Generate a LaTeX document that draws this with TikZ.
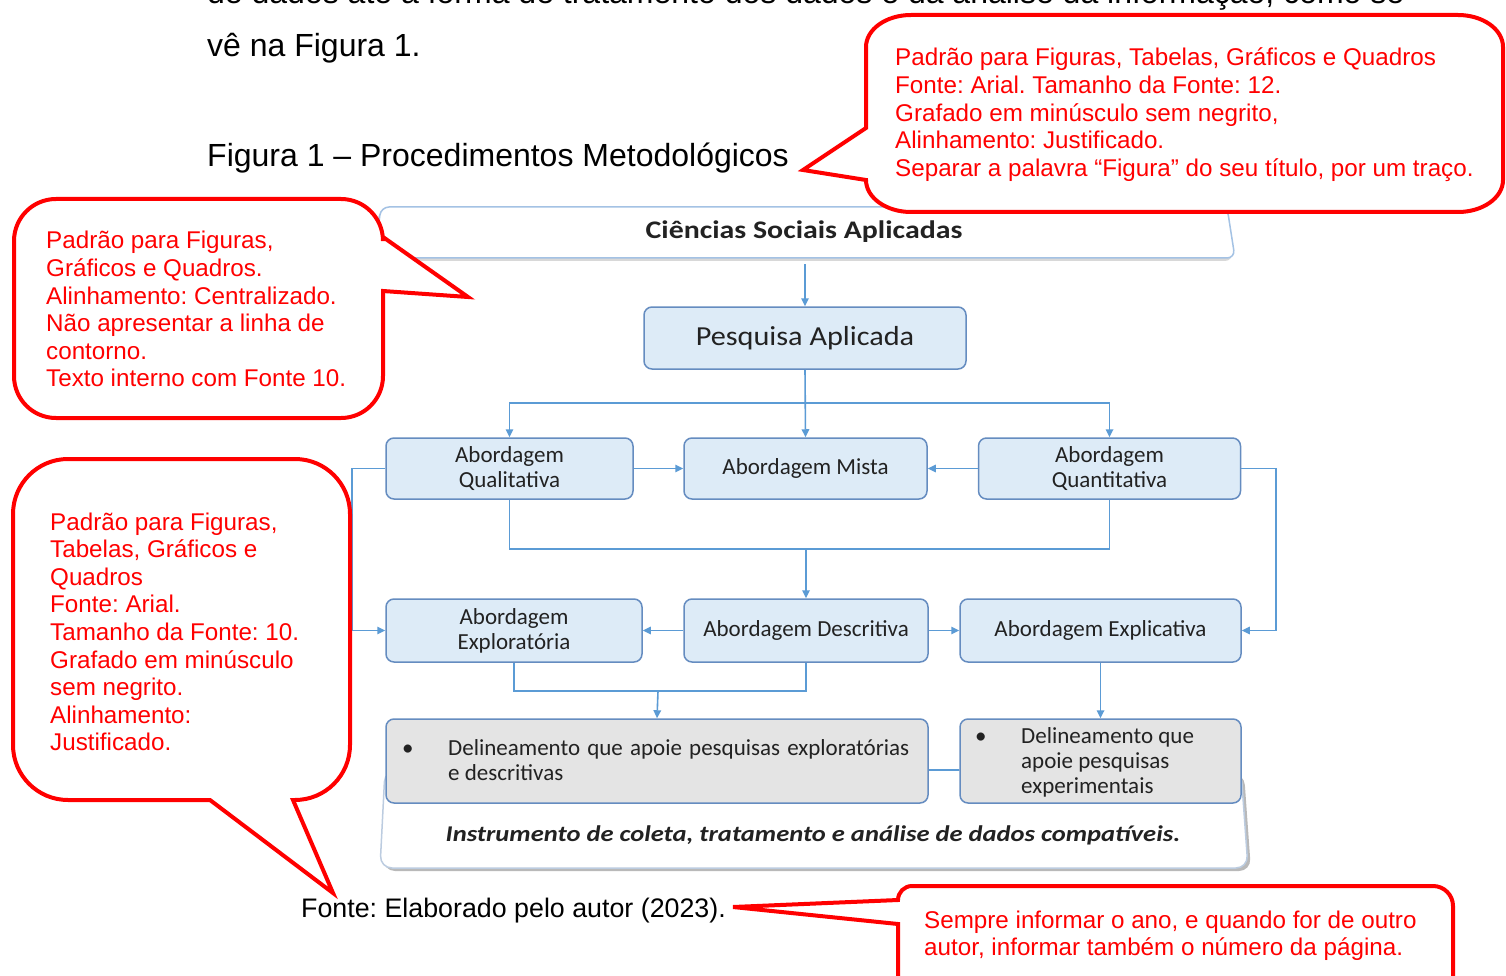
\documentclass[tikz,border=0pt]{standalone}
\usepackage{fontspec}
\setmainfont{Liberation Sans}
\newfontfamily\dgfont{Carlito}
\newfontfamily\dgmid[FakeStretch=1.1]{Carlito}
\newfontfamily\dgwide[FakeStretch=1.18]{Carlito}
\usetikzlibrary{arrows.meta,shadows}
\definecolor{lnblue}{HTML}{5B9BD5}
\definecolor{bxborder}{HTML}{658CC0}
\definecolor{bxfill}{HTML}{DDEBF7}
\definecolor{gyfill}{HTML}{E4E4E4}
\definecolor{cienborder}{HTML}{A4C2E4}
\definecolor{instborder}{HTML}{BCCCE0}
\definecolor{callred}{HTML}{FF0000}
\definecolor{txtc}{HTML}{222222}
\frenchspacing
\begin{document}
\frenchspacing
\begin{tikzpicture}[x=1pt,y=-1pt,
  conn/.style={draw=lnblue, line width=1.6pt},
  arr/.style={conn, -{Triangle[length=8pt,width=7.5pt]}},
  bx/.style={draw=bxborder, fill=bxfill, line width=1.5pt, rounded corners=8pt, inner sep=0pt, align=center, font=\dgfont\fontsize{23}{25}\selectfont, text=txtc},
  gbx/.style={bx, fill=gyfill},
  dgtext/.style={anchor=base west, inner sep=0pt, font=\dgfont\fontsize{23}{25}\selectfont, text=txtc},
  callout/.style={draw=callred, fill=white, line width=4pt},
  calltext/.style={anchor=base west, inner sep=0pt, text=callred, font=\fontsize{24.2}{27.6}\selectfont},
  body/.style={anchor=base west, inner sep=0pt, font=\fontsize{32}{38}\selectfont, text=black}
]
\useasboundingbox (0,0) rectangle (1506,976);
\clip (0,0) rectangle (1506,976);
\fill[white] (0,0) rectangle (1506,976);

% body text
\node[body] (l0) at (207,3.3) {de dados até a forma de tratamento dos dados e da análise da informação, como se};
\node[body] (l1) at (207,56.7) {vê na Figura 1.};
\node[body] (cap) at (207,166.7) {Figura 1 – Procedimentos Metodológicos};

% top band
\draw[draw=cienborder, fill=white, line width=1.5pt, rounded corners=8pt,
  drop shadow={opacity=0.3, shadow xshift=-2pt, shadow yshift=-3pt}]
  (381,207) -- (1227,207) -- (1235,258) -- (374,258) -- cycle;
\node[font=\dgwide\bfseries\fontsize{25.3}{30}\selectfont, text=txtc, inner sep=0pt] (cien) at (804,232) {Ciências Sociais Aplicadas};
\coordinate (cienb) at (805,264);

% bottom band
\draw[draw=instborder, fill=white, line width=1.5pt, rounded corners=12pt,
  drop shadow={opacity=0.55, shadow xshift=3pt, shadow yshift=-3pt}]
  (385,770) -- (1241,770) -- (1248,868) -- (380,868) -- cycle;
\node[font=\dgwide\bfseries\itshape\fontsize{22.5}{26}\selectfont, text=txtc, inner sep=0pt] (inst) at (813,835) {Instrumento de coleta, tratamento e análise de dados compatíveis.};

% boxes
\node[bx, minimum width=322pt, minimum height=62pt, font=\dgmid\fontsize{27.5}{30}\selectfont] (pesq) at (805,338) {Pesquisa Aplicada};
\node[bx, minimum width=247pt, minimum height=61pt] (qual) at (509.5,468.5) {Abordagem\\Qualitativa};
\node[bx, minimum width=243pt, minimum height=61pt] (mista) at (805.5,468.5) {Abordagem Mista};
\node[bx, minimum width=262pt, minimum height=61pt] (quant) at (1109.5,468.5) {Abordagem\\Quantitativa};
\node[bx, minimum width=256pt, minimum height=63pt] (explo) at (514,630.5) {Abordagem\\Exploratória};
\node[bx, minimum width=244pt, minimum height=63pt] (descr) at (806,630.5) {Abordagem Descritiva};
\node[bx, minimum width=281pt, minimum height=63pt] (expli) at (1100.5,630.5) {Abordagem Explicativa};
\node[gbx, minimum width=542pt, minimum height=84pt] (gl) at (657,761) {};
\node[gbx, minimum width=281pt, minimum height=84pt] (gr) at (1100.5,761) {};
\node[dgtext] (glb) at (402,755) {\textbullet};
\node[dgtext] (glt) at (448,755) {\parbox[t]{461pt}{\makebox[461pt][s]{Delineamento que apoie pesquisas exploratórias}\\e descritivas}};
\node[dgtext] (grb) at (975,743) {\textbullet};
\node[dgtext] (grt) at (1021,743) {\parbox[t]{200pt}{Delineamento que\\apoie pesquisas\\experimentais}};

% connectors
\coordinate (j1) at (805,403);
\coordinate (j2) at (806,549);
\coordinate (j3) at (658,691);
\coordinate (lL) at (352,468.5);
\coordinate (lR) at (1276,468.5);
\draw[arr] (cienb) -- (pesq.north);
\draw[arr] (pesq.south) -- (mista.north);
\draw[arr] (j1) -| (qual.north);
\draw[arr] (j1) -| (quant.north);
\draw[arr] (qual.east) -- (mista.west);
\draw[arr] (quant.west) -- (mista.east);
\draw[conn] (qual.south) |- (j2) -| (quant.south);
\draw[arr] (j2) -- (descr.north);
\draw[arr] (qual.west) -- (lL) |- (explo.west);
\draw[arr] (quant.east) -- (lR) |- (expli.east);
\draw[arr] (descr.west) -- (explo.east);
\draw[arr] (descr.east) -- (expli.west);
\draw[conn] (explo.south) |- (j3) -| (descr.south);
\draw[arr] (j3) -- (gl.north);
\draw[arr] (expli.south) -- (gr.north);
\draw[conn] ([yshift=-9pt]gl.east) -- ([yshift=-9pt]gr.west);

% callouts
\draw[callout] (866,128) -- (866,47) arc[start angle=180,end angle=90,x radius=45pt,y radius=32pt]
  -- (1458,15) arc[start angle=90,end angle=0,x radius=45pt,y radius=32pt]
  -- (1503,180) arc[start angle=0,end angle=-90,x radius=45pt,y radius=32pt]
  -- (911,212) arc[start angle=-90,end angle=-180,x radius=45pt,y radius=32pt]
  -- (803,170) -- cycle;
\node[calltext] (ct1) at (895,66) {\parbox[t]{620pt}{Padrão para Figuras, Tabelas, Gráficos e Quadros\\Fonte: Arial. Tamanho da Fonte: 12.\\Grafado em minúsculo sem negrito,\\Alinhamento: Justificado.\\Separar a palavra “Figura” do seu título, por um traço.}};

\draw[callout] (383,237) -- (468,297) -- (383,291) -- (383,376) arc[start angle=0,end angle=-90,radius=42pt]
  -- (56,418) arc[start angle=-90,end angle=-180,radius=42pt]
  -- (14,241) arc[start angle=180,end angle=90,radius=42pt]
  -- (341,199) arc[start angle=90,end angle=0,radius=42pt] -- cycle;
\node[calltext] (ct2) at (46,249) {\parbox[t]{330pt}{Padrão para Figuras,\\Gráficos e Quadros.\\Alinhamento: Centralizado.\\Não apresentar a linha de\\contorno.\\Texto interno com Fonte 10.}};

\draw[callout] (210,800) -- (333,893) -- (293,800) -- (295,800) arc[start angle=-90,end angle=0,radius=55pt]
  -- (350,514) arc[start angle=0,end angle=90,radius=55pt]
  -- (68,459) arc[start angle=90,end angle=180,radius=55pt]
  -- (13,745) arc[start angle=180,end angle=270,radius=55pt] -- cycle;
\node[calltext] (ct3) at (50,530) {\parbox[t]{290pt}{Padrão para Figuras,\\Tabelas, Gráficos e\\Quadros\\Fonte: Arial.\\Tamanho da Fonte: 10.\\Grafado em minúsculo\\sem negrito.\\Alinhamento:\\Justificado.}};

\draw[callout] (898,924) -- (733,907) -- (898,900) arc[start angle=180,end angle=90,radius=14pt]
  -- (1433,886) arc[start angle=90,end angle=0,radius=20pt]
  -- (1453,1000) -- (898,1000) -- cycle;
\node[calltext] (ct4) at (924,928) {\parbox[t]{520pt}{Sempre informar o ano, e quando for de outro\\autor, informar também o número da página.}};

\node[anchor=base west, inner sep=0pt, font=\fontsize{26.8}{30}\selectfont] (fonte) at (301,917) {Fonte: Elaborado pelo autor (2023).};
\end{tikzpicture}
\end{document}
